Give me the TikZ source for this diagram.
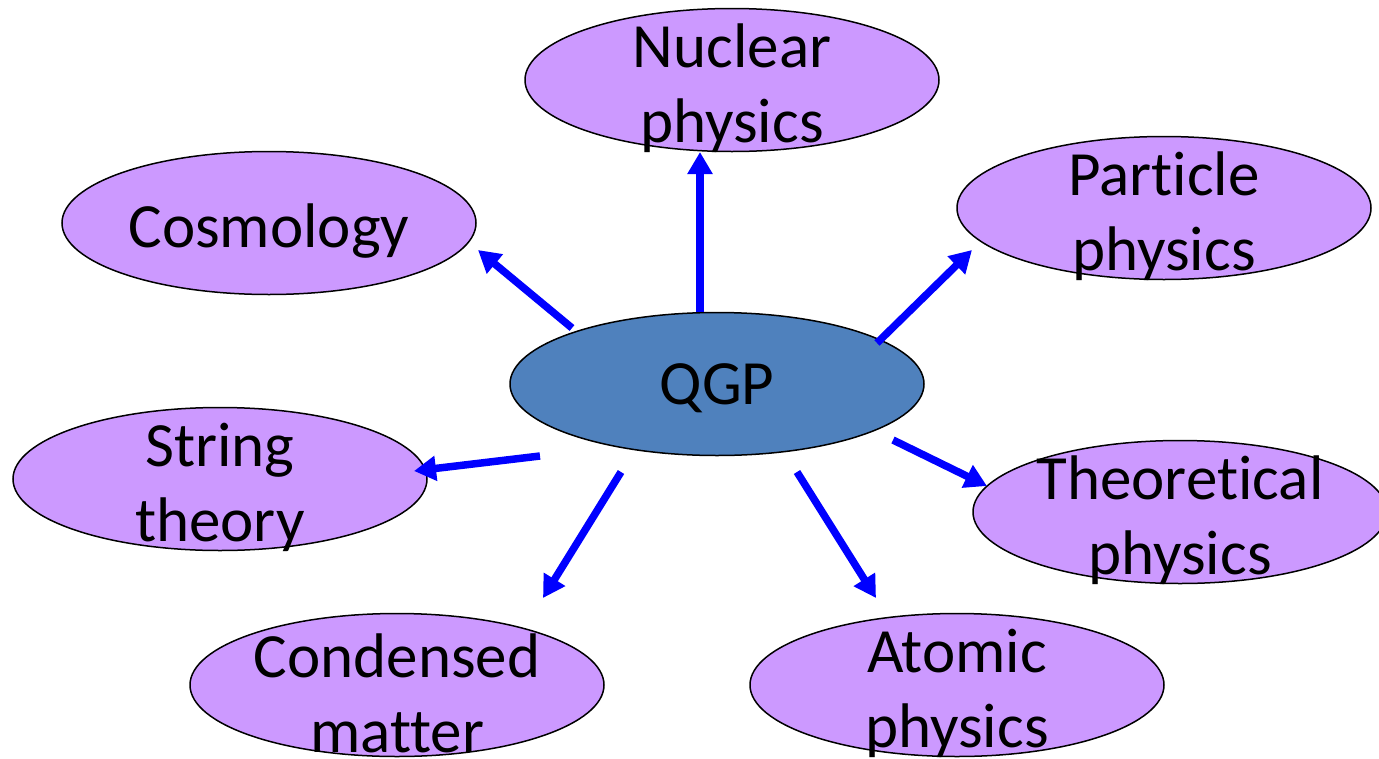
\documentclass[tikz,border=0pt]{standalone}
\usepackage{fontspec}
\setmainfont{Carlito}[RawFeature={-liga;-clig;-calt;-dlig}]
\usetikzlibrary{arrows.meta,shapes.geometric}
\definecolor{lilac}{HTML}{CC99FF}
\definecolor{qgpblue}{HTML}{4F81BD}
\tikzset{topic/.style={draw,ellipse,fill=lilac,line width=1.5pt,minimum width=414pt,minimum height=143pt,inner sep=0pt},
  core/.style={topic,fill=qgpblue},
  txt/.style={align=center,inner sep=0pt,font=\fontsize{63}{75}\selectfont},
  arr/.style={-{Triangle[length=22pt,width=24pt]},line width=7.5pt,blue}}
\begin{document}
\begin{tikzpicture}[x=1pt,y=-1pt]
\useasboundingbox (0,0) rectangle (1379,758);
\clip (0,0) rectangle (1379,758);
\node[topic] (nu) at (732,80){}; \node[topic] (co) at (269,223){}; \node[topic] (pa) at (1164,208){};
\node[core] (qgp) at (717,384){};
\node[topic] (st) at (220,479){}; \node[topic] (th) at (1180,512){};
\node[topic] (cm) at (397,685){}; \node[topic] (am) at (957,685){};
\node[txt,yshift=-8pt] (nu-t) at (nu){Nuclear\\physics}; \node[txt,yshift=-8pt] (co-t) at (co){Cosmology};
\node[txt,yshift=-8pt] (pa-t) at (pa){Particle\\physics}; \node[txt,yshift=-4pt] (qgp-t) at (qgp){QGP};
\node[txt,yshift=-8pt] (st-t) at (st){String\\theory}; \node[txt,yshift=-8pt] (th-t) at (th){Theoretical\\physics};
\node[txt,yshift=-8pt] (cm-t) at (cm){Condensed\\matter}; \node[txt,yshift=-8pt] (am-t) at (am){Atomic\\physics};
% arrow ends
\coordinate (q1) at (700,312); \coordinate (e1) at (700,152);
\coordinate (q2) at (572,328); \coordinate (e2) at (478,250);
\coordinate (q3) at (877,343); \coordinate (e3) at (972,250);
\coordinate (q4) at (540,456); \coordinate (e4) at (414,471);
\coordinate (q5) at (893,440); \coordinate (e5) at (987,486);
\coordinate (q6) at (621,472); \coordinate (e6) at (543,598);
\coordinate (q7) at (797,472); \coordinate (e7) at (876,598);
\foreach \i in {1,...,7} \draw[arr] (q\i)--(e\i);
\end{tikzpicture}
\end{document}
